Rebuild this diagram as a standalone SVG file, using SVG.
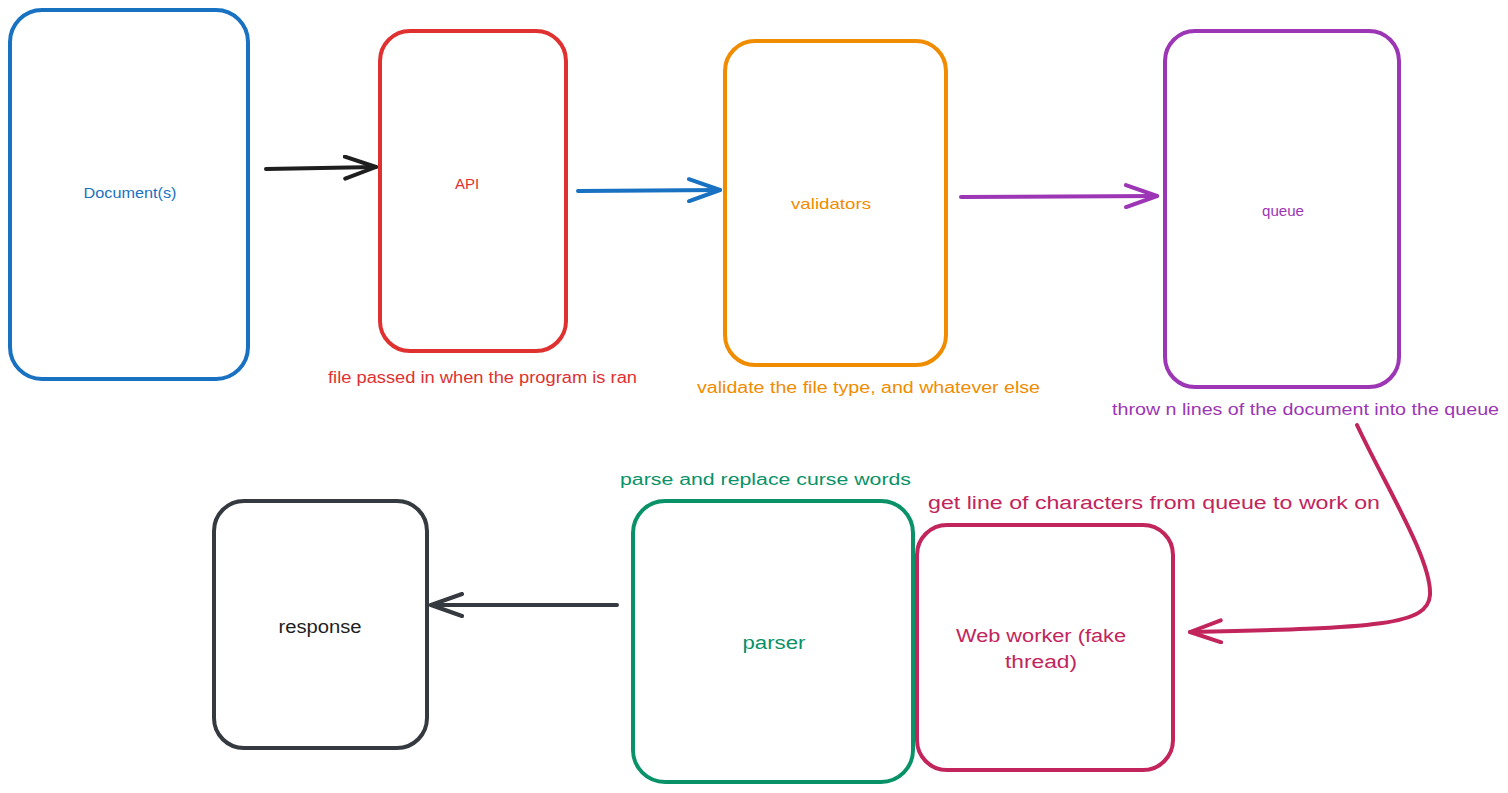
<svg xmlns="http://www.w3.org/2000/svg" width="1508" height="793" viewBox="0 0 1508 793">
<style>
.box{fill:#fff;stroke-width:4;stroke-linejoin:round}
.t{font-family:"Liberation Sans",Arial,sans-serif;}
.lbl{font-size:15px;text-anchor:middle}
.big{font-size:18px;text-anchor:middle}
.note{font-size:16px}
.con{fill:none;stroke-width:4;stroke-linecap:round}
</style>
<defs>
<marker id="hk" viewBox="0 0 36 26" refX="33" refY="13" markerWidth="36" markerHeight="26" markerUnits="userSpaceOnUse" orient="auto"><path d="M2,2 L33,13 L2,24" fill="none" stroke="#1e1e1e" stroke-width="4" stroke-linecap="round" stroke-linejoin="round"/></marker>
<marker id="hb" viewBox="0 0 36 26" refX="33" refY="13" markerWidth="36" markerHeight="26" markerUnits="userSpaceOnUse" orient="auto"><path d="M2,2 L33,13 L2,24" fill="none" stroke="#1971c2" stroke-width="4" stroke-linecap="round" stroke-linejoin="round"/></marker>
<marker id="hp" viewBox="0 0 36 26" refX="33" refY="13" markerWidth="36" markerHeight="26" markerUnits="userSpaceOnUse" orient="auto"><path d="M2,2 L33,13 L2,24" fill="none" stroke="#9c36b5" stroke-width="4" stroke-linecap="round" stroke-linejoin="round"/></marker>
<marker id="hm" viewBox="0 0 36 26" refX="33" refY="13" markerWidth="36" markerHeight="26" markerUnits="userSpaceOnUse" orient="auto"><path d="M2,2 L33,13 L2,24" fill="none" stroke="#c2255c" stroke-width="4" stroke-linecap="round" stroke-linejoin="round"/></marker>
<marker id="hg" viewBox="0 0 36 26" refX="33" refY="13" markerWidth="36" markerHeight="26" markerUnits="userSpaceOnUse" orient="auto"><path d="M2,2 L33,13 L2,24" fill="none" stroke="#343a40" stroke-width="4" stroke-linecap="round" stroke-linejoin="round"/></marker>
</defs>
<rect width="1508" height="793" fill="#fff"/>

<g id="connectors">
<path class="con" stroke="#1e1e1e" d="M266,169 L376,167" marker-end="url(#hk)"/>
<path class="con" stroke="#1971c2" d="M578,191 L720,190" marker-end="url(#hb)"/>
<path class="con" stroke="#9c36b5" d="M961,197 L1157,196" marker-end="url(#hp)"/>
<path class="con" stroke="#c2255c" d="M1357,425 C1385,485 1432,560 1430,595 C1428,625 1380,628 1190,632" marker-end="url(#hm)"/>
<path class="con" stroke="#343a40" d="M617,605 L431,605" marker-end="url(#hg)"/>
</g>

<g id="documents">
<rect class="box" x="10" y="10" width="238" height="369" rx="32" stroke="#1971c2"/>
<text class="t lbl" x="130" y="198" fill="#1971c2" textLength="93" lengthAdjust="spacingAndGlyphs">Document(s)</text>
</g>
<g id="api">
<rect class="box" x="380" y="31" width="186" height="320" rx="30" stroke="#e03131" stroke-width="3.5"/>
<text class="t lbl" x="467" y="189" fill="#e03131">API</text>
<text class="t note" x="328" y="383" fill="#e03131" textLength="309" lengthAdjust="spacingAndGlyphs">file passed in when the program is ran</text>
</g>
<g id="validators">
<rect class="box" x="725" y="41" width="221" height="324" rx="30" stroke="#f08c00"/>
<text class="t lbl" x="831" y="209" fill="#f08c00" textLength="80" lengthAdjust="spacingAndGlyphs">validators</text>
<text class="t note" x="697" y="393" fill="#f08c00" textLength="343" lengthAdjust="spacingAndGlyphs">validate the file type, and whatever else</text>
</g>
<g id="queue">
<rect class="box" x="1165" y="31" width="234" height="356" rx="30" stroke="#9c36b5"/>
<text class="t lbl" x="1283" y="216" fill="#9c36b5" textLength="42" lengthAdjust="spacingAndGlyphs">queue</text>
<text class="t note" x="1112" y="415" fill="#9c36b5" textLength="387" lengthAdjust="spacingAndGlyphs">throw n lines of the document into the queue</text>
</g>
<g id="response">
<rect class="box" x="214" y="501" width="213" height="247" rx="30" stroke="#343a40"/>
<text class="t big" x="320" y="633" fill="#1e1e1e" textLength="83" lengthAdjust="spacingAndGlyphs">response</text>
</g>
<g id="parser">
<rect class="box" x="633" y="501" width="280" height="281" rx="32" stroke="#099268"/>
<text class="t big" x="774" y="649" fill="#099268" textLength="63" lengthAdjust="spacingAndGlyphs">parser</text>
<text class="t note" x="620" y="485" fill="#099268" textLength="291" lengthAdjust="spacingAndGlyphs">parse and replace curse words</text>
</g>
<g id="webworker">
<rect class="box" x="917" y="525" width="256" height="245" rx="30" stroke="#c2255c"/>
<text class="t big" x="1041" y="642" fill="#c2255c" textLength="170" lengthAdjust="spacingAndGlyphs">Web worker (fake</text>
<text class="t big" x="1041" y="668" fill="#c2255c" textLength="72" lengthAdjust="spacingAndGlyphs">thread)</text>
<text class="t" x="928" y="509" font-size="18" fill="#c2255c" textLength="452" lengthAdjust="spacingAndGlyphs">get line of characters from queue to work on</text>
</g>
</svg>
